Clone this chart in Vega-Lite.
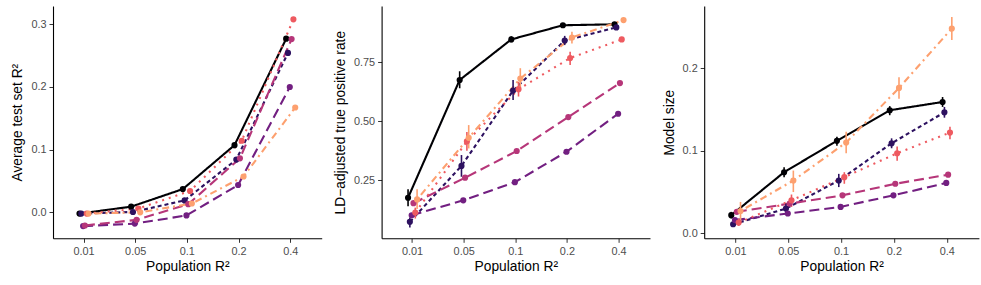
{
  "$schema": "https://vega.github.io/schema/vega-lite/v6.json",
  "padding": {"left": 10, "top": 6, "right": 7, "bottom": 5},
  "spacing": 10.6,
  "config": {
    "font": "Liberation Sans",
    "view": {"stroke": null},
    "axis": {
      "grid": false,
      "domainColor": "#000000",
      "domainWidth": 1.1,
      "tickColor": "#333333",
      "tickSize": 4,
      "tickWidth": 1,
      "labelFont": "Liberation Sans",
      "labelFontSize": 10.9,
      "labelColor": "#4D4D4D",
      "labelPadding": 3,
      "titleFont": "Liberation Sans",
      "titleFontSize": 13.8,
      "titleFontWeight": "normal",
      "titleColor": "#000000"
    }
  },
  "datasets": {
    "d": [
      {"panel": "r2", "pop": "0.01", "method": "A", "value": -0.002},
      {"panel": "r2", "pop": "0.01", "method": "B", "value": -0.002},
      {"panel": "r2", "pop": "0.01", "method": "C", "value": -0.022},
      {"panel": "r2", "pop": "0.01", "method": "D", "value": -0.021},
      {"panel": "r2", "pop": "0.01", "method": "E", "value": -0.002},
      {"panel": "r2", "pop": "0.01", "method": "F", "value": -0.002},
      {"panel": "r2", "pop": "0.05", "method": "A", "value": 0.009},
      {"panel": "r2", "pop": "0.05", "method": "B", "value": 0.0005},
      {"panel": "r2", "pop": "0.05", "method": "C", "value": -0.018},
      {"panel": "r2", "pop": "0.05", "method": "D", "value": -0.012},
      {"panel": "r2", "pop": "0.05", "method": "E", "value": 0.006},
      {"panel": "r2", "pop": "0.05", "method": "F", "value": 0.0},
      {"panel": "r2", "pop": "0.1", "method": "A", "value": 0.037},
      {"panel": "r2", "pop": "0.1", "method": "B", "value": 0.019},
      {"panel": "r2", "pop": "0.1", "method": "C", "value": -0.005},
      {"panel": "r2", "pop": "0.1", "method": "D", "value": 0.013},
      {"panel": "r2", "pop": "0.1", "method": "E", "value": 0.034},
      {"panel": "r2", "pop": "0.1", "method": "F", "value": 0.014},
      {"panel": "r2", "pop": "0.2", "method": "A", "value": 0.107},
      {"panel": "r2", "pop": "0.2", "method": "B", "value": 0.084},
      {"panel": "r2", "pop": "0.2", "method": "C", "value": 0.0435},
      {"panel": "r2", "pop": "0.2", "method": "D", "value": 0.086},
      {"panel": "r2", "pop": "0.2", "method": "E", "value": 0.114},
      {"panel": "r2", "pop": "0.2", "method": "F", "value": 0.057},
      {"panel": "r2", "pop": "0.4", "method": "A", "value": 0.2766},
      {"panel": "r2", "pop": "0.4", "method": "B", "value": 0.254},
      {"panel": "r2", "pop": "0.4", "method": "C", "value": 0.1996},
      {"panel": "r2", "pop": "0.4", "method": "D", "value": 0.276},
      {"panel": "r2", "pop": "0.4", "method": "E", "value": 0.3075},
      {"panel": "r2", "pop": "0.4", "method": "F", "value": 0.167},

      {"panel": "tpr", "pop": "0.01", "method": "A", "value": 0.176, "lo": 0.140, "hi": 0.212},
      {"panel": "tpr", "pop": "0.01", "method": "B", "value": 0.074, "lo": 0.050, "hi": 0.092},
      {"panel": "tpr", "pop": "0.01", "method": "C", "value": 0.102},
      {"panel": "tpr", "pop": "0.01", "method": "D", "value": 0.153},
      {"panel": "tpr", "pop": "0.01", "method": "E", "value": 0.113, "lo": 0.088, "hi": 0.134},
      {"panel": "tpr", "pop": "0.01", "method": "F", "value": 0.169, "lo": 0.128, "hi": 0.212},
      {"panel": "tpr", "pop": "0.05", "method": "A", "value": 0.675, "lo": 0.640, "hi": 0.712},
      {"panel": "tpr", "pop": "0.05", "method": "B", "value": 0.311, "lo": 0.265, "hi": 0.357},
      {"panel": "tpr", "pop": "0.05", "method": "C", "value": 0.165},
      {"panel": "tpr", "pop": "0.05", "method": "D", "value": 0.261},
      {"panel": "tpr", "pop": "0.05", "method": "E", "value": 0.415, "lo": 0.375, "hi": 0.455},
      {"panel": "tpr", "pop": "0.05", "method": "F", "value": 0.430, "lo": 0.385, "hi": 0.484},
      {"panel": "tpr", "pop": "0.1", "method": "A", "value": 0.847, "lo": 0.835, "hi": 0.860},
      {"panel": "tpr", "pop": "0.1", "method": "B", "value": 0.630, "lo": 0.590, "hi": 0.675},
      {"panel": "tpr", "pop": "0.1", "method": "C", "value": 0.242},
      {"panel": "tpr", "pop": "0.1", "method": "D", "value": 0.374},
      {"panel": "tpr", "pop": "0.1", "method": "E", "value": 0.636, "lo": 0.605, "hi": 0.668},
      {"panel": "tpr", "pop": "0.1", "method": "F", "value": 0.681, "lo": 0.633, "hi": 0.725},
      {"panel": "tpr", "pop": "0.2", "method": "A", "value": 0.907, "lo": 0.900, "hi": 0.915},
      {"panel": "tpr", "pop": "0.2", "method": "B", "value": 0.842, "lo": 0.823, "hi": 0.862},
      {"panel": "tpr", "pop": "0.2", "method": "C", "value": 0.371},
      {"panel": "tpr", "pop": "0.2", "method": "D", "value": 0.518},
      {"panel": "tpr", "pop": "0.2", "method": "E", "value": 0.768, "lo": 0.739, "hi": 0.795},
      {"panel": "tpr", "pop": "0.2", "method": "F", "value": 0.855, "lo": 0.830, "hi": 0.880},
      {"panel": "tpr", "pop": "0.4", "method": "A", "value": 0.911, "lo": 0.904, "hi": 0.918},
      {"panel": "tpr", "pop": "0.4", "method": "B", "value": 0.898, "lo": 0.890, "hi": 0.906},
      {"panel": "tpr", "pop": "0.4", "method": "C", "value": 0.532},
      {"panel": "tpr", "pop": "0.4", "method": "D", "value": 0.662},
      {"panel": "tpr", "pop": "0.4", "method": "E", "value": 0.847, "lo": 0.840, "hi": 0.855},
      {"panel": "tpr", "pop": "0.4", "method": "F", "value": 0.929, "lo": 0.922, "hi": 0.936},

      {"panel": "size", "pop": "0.01", "method": "A", "value": 0.022, "lo": 0.018, "hi": 0.026},
      {"panel": "size", "pop": "0.01", "method": "B", "value": 0.011, "lo": 0.008, "hi": 0.014},
      {"panel": "size", "pop": "0.01", "method": "C", "value": 0.016},
      {"panel": "size", "pop": "0.01", "method": "D", "value": 0.026},
      {"panel": "size", "pop": "0.01", "method": "E", "value": 0.013, "lo": 0.009, "hi": 0.018},
      {"panel": "size", "pop": "0.01", "method": "F", "value": 0.027, "lo": 0.014, "hi": 0.038},
      {"panel": "size", "pop": "0.05", "method": "A", "value": 0.074, "lo": 0.068, "hi": 0.080},
      {"panel": "size", "pop": "0.05", "method": "B", "value": 0.030, "lo": 0.024, "hi": 0.036},
      {"panel": "size", "pop": "0.05", "method": "C", "value": 0.024},
      {"panel": "size", "pop": "0.05", "method": "D", "value": 0.036},
      {"panel": "size", "pop": "0.05", "method": "E", "value": 0.040, "lo": 0.032, "hi": 0.047},
      {"panel": "size", "pop": "0.05", "method": "F", "value": 0.064, "lo": 0.050, "hi": 0.076},
      {"panel": "size", "pop": "0.1", "method": "A", "value": 0.112, "lo": 0.106, "hi": 0.117},
      {"panel": "size", "pop": "0.1", "method": "B", "value": 0.064, "lo": 0.056, "hi": 0.072},
      {"panel": "size", "pop": "0.1", "method": "C", "value": 0.032},
      {"panel": "size", "pop": "0.1", "method": "D", "value": 0.046},
      {"panel": "size", "pop": "0.1", "method": "E", "value": 0.068, "lo": 0.060, "hi": 0.074},
      {"panel": "size", "pop": "0.1", "method": "F", "value": 0.110, "lo": 0.097, "hi": 0.123},
      {"panel": "size", "pop": "0.2", "method": "A", "value": 0.149, "lo": 0.143, "hi": 0.154},
      {"panel": "size", "pop": "0.2", "method": "B", "value": 0.109, "lo": 0.103, "hi": 0.115},
      {"panel": "size", "pop": "0.2", "method": "C", "value": 0.046},
      {"panel": "size", "pop": "0.2", "method": "D", "value": 0.060},
      {"panel": "size", "pop": "0.2", "method": "E", "value": 0.097, "lo": 0.088, "hi": 0.105},
      {"panel": "size", "pop": "0.2", "method": "F", "value": 0.176, "lo": 0.163, "hi": 0.189},
      {"panel": "size", "pop": "0.4", "method": "A", "value": 0.159, "lo": 0.153, "hi": 0.165},
      {"panel": "size", "pop": "0.4", "method": "B", "value": 0.1465, "lo": 0.140, "hi": 0.153},
      {"panel": "size", "pop": "0.4", "method": "C", "value": 0.061},
      {"panel": "size", "pop": "0.4", "method": "D", "value": 0.071},
      {"panel": "size", "pop": "0.4", "method": "E", "value": 0.122, "lo": 0.114, "hi": 0.129},
      {"panel": "size", "pop": "0.4", "method": "F", "value": 0.248, "lo": 0.234, "hi": 0.262}
    ]
  },
  "data": {"name": "d"},
  "resolve": {"scale": {"x": "independent", "y": "independent", "xOffset": "independent", "color": "shared", "strokeDash": "shared"}},
  "hconcat": [
    {
      "width": 268.7,
      "height": 232.3,
      "transform": [{"filter": "datum.panel === 'r2'"}],
      "encoding": {
        "x": {"field": "pop", "type": "ordinal", "sort": ["0.01", "0.05", "0.1", "0.2", "0.4"],
              "scale": {"type": "band", "paddingInner": 0.79, "paddingOuter": 0.495},
              "axis": {"title": "Population R²", "labelAngle": 0, "titlePadding": 3}},
        "xOffset": {"field": "method", "type": "nominal", "scale": {"domain": ["A", "B", "C", "D", "E", "F"]}},
        "color": {"field": "method", "type": "nominal", "legend": null,
                  "scale": {"domain": ["A", "B", "C", "D", "E", "F"], "range": ["#000004", "#2D1160", "#721F81", "#B63679", "#EE5A60", "#FDA06F"]}}
      },
      "layer": [
        {
          "mark": {"type": "line", "strokeWidth": 2.1},
          "encoding": {
            "y": {"field": "value", "type": "quantitative",
                  "scale": {"domain": [-0.0414, 0.3287], "nice": false, "zero": false},
                  "axis": {"title": "Average test set R²", "values": [0, 0.1, 0.2, 0.3], "format": ".1f", "titlePadding": 6}},
            "strokeDash": {"field": "method", "type": "nominal", "legend": null,
                           "scale": {"domain": ["A", "B", "C", "D", "E", "F"], "range": [[1, 0], [4, 3], [10, 5], [10, 5], [2, 5], [2, 4, 7, 4]]}}
          }
        },
        {
          "mark": {"type": "circle", "size": 38, "opacity": 1},
          "encoding": {"y": {"field": "value", "type": "quantitative"}}
        }
      ]
    },
    {
      "width": 268.4,
      "height": 232.3,
      "transform": [{"filter": "datum.panel === 'tpr'"}],
      "encoding": {
        "x": {"field": "pop", "type": "ordinal", "sort": ["0.01", "0.05", "0.1", "0.2", "0.4"],
              "scale": {"type": "band", "paddingInner": 0.79, "paddingOuter": 0.495},
              "axis": {"title": "Population R²", "labelAngle": 0, "titlePadding": 3}},
        "xOffset": {"field": "method", "type": "nominal", "scale": {"domain": ["A", "B", "C", "D", "E", "F"]}},
        "color": {"field": "method", "type": "nominal", "legend": null}
      },
      "layer": [
        {
          "mark": {"type": "line", "strokeWidth": 2.1},
          "encoding": {
            "y": {"field": "value", "type": "quantitative",
                  "scale": {"domain": [0.0042, 0.9886], "nice": false, "zero": false},
                  "axis": {"title": "LD−adjusted true positive rate", "values": [0.25, 0.5, 0.75], "format": ".2f", "titlePadding": 6}},
            "strokeDash": {"field": "method", "type": "nominal", "legend": null}
          }
        },
        {
          "transform": [{"filter": "isValid(datum.lo)"}],
          "mark": {"type": "rule", "strokeWidth": 1.6},
          "encoding": {"y": {"field": "lo", "type": "quantitative"}, "y2": {"field": "hi"}}
        },
        {
          "mark": {"type": "circle", "size": 38, "opacity": 1},
          "encoding": {"y": {"field": "value", "type": "quantitative"}}
        }
      ]
    },
    {
      "width": 274.7,
      "height": 232.3,
      "transform": [{"filter": "datum.panel === 'size'"}],
      "encoding": {
        "x": {"field": "pop", "type": "ordinal", "sort": ["0.01", "0.05", "0.1", "0.2", "0.4"],
              "scale": {"type": "band", "paddingInner": 0.79, "paddingOuter": 0.495},
              "axis": {"title": "Population R²", "labelAngle": 0, "titlePadding": 3}},
        "xOffset": {"field": "method", "type": "nominal", "scale": {"domain": ["A", "B", "C", "D", "E", "F"]}},
        "color": {"field": "method", "type": "nominal", "legend": null}
      },
      "layer": [
        {
          "mark": {"type": "line", "strokeWidth": 2.1},
          "encoding": {
            "y": {"field": "value", "type": "quantitative",
                  "scale": {"domain": [-0.006, 0.2752], "nice": false, "zero": false},
                  "axis": {"title": "Model size", "values": [0, 0.1, 0.2], "format": ".1f", "titlePadding": 6}},
            "strokeDash": {"field": "method", "type": "nominal", "legend": null}
          }
        },
        {
          "transform": [{"filter": "isValid(datum.lo)"}],
          "mark": {"type": "rule", "strokeWidth": 1.6},
          "encoding": {"y": {"field": "lo", "type": "quantitative"}, "y2": {"field": "hi"}}
        },
        {
          "mark": {"type": "circle", "size": 38, "opacity": 1},
          "encoding": {"y": {"field": "value", "type": "quantitative"}}
        }
      ]
    }
  ]
}
